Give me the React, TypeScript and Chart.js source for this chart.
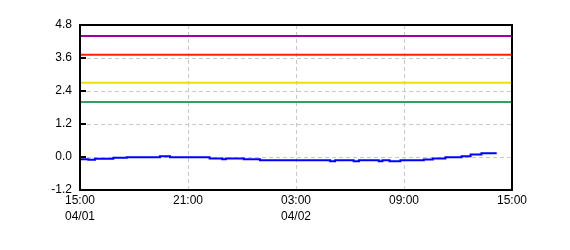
import React, { useEffect, useRef } from "react";
import { Chart, registerables } from "chart.js";

Chart.register(...registerables);

// Time in hours after 04/01 15:00
const levelHours = [0, 0.46, 0.83, 1.85, 2.6, 4.44, 5.0, 7.2, 7.9, 8.1, 9.1, 10.0, 13.9, 14.17, 15.2, 15.5, 16.6, 16.8, 17.2, 17.8, 19.1, 19.6, 20.3, 21.2, 21.7, 22.3, 23.15];
const levelValues = [-0.08, -0.1, -0.06, -0.03, -0.01, 0.03, -0.01, -0.05, -0.08, -0.05, -0.08, -0.12, -0.15, -0.12, -0.15, -0.12, -0.15, -0.12, -0.15, -0.12, -0.09, -0.05, -0.01, 0.03, 0.09, 0.14, 0.14];

const thresholdValues = [4.4, 3.72, 2.7, 2.0];
const thresholdColors = ["#a000a0", "#ff2000", "#f0e000", "#30a060"];

const xTickHours = [0, 6, 12, 18, 24];
const xTimeLabels = ["15:00", "21:00", "03:00", "09:00", "15:00"];
const xDateLabels = ["04/01", "", "04/02", "", ""];
const yTicks = [-1.2, 0.0, 1.2, 2.4, 3.6, 4.8];

const framePlugin = {
  id: "frame",
  afterDatasetsDraw(chart: any) {
    const { ctx, chartArea } = chart;
    const y = chart.scales.y;
    ctx.save();
    ctx.strokeStyle = "#000";
    ctx.lineWidth = 2;
    ctx.beginPath();
    yTicks.forEach((v) => {
      const py = Math.round(y.getPixelForValue(v));
      ctx.moveTo(chartArea.left, py);
      ctx.lineTo(chartArea.left + 6, py);
    });
    ctx.stroke();
    ctx.strokeRect(chartArea.left, chartArea.top, chartArea.right - chartArea.left, chartArea.bottom - chartArea.top);
    ctx.restore();
  },
};

export default function App() {
  const ref = useRef<HTMLCanvasElement>(null);
  useEffect(() => {
    document.body.style.margin = "0";
    const datasets: any[] = thresholdValues.map((v, i) => ({
      data: [
        { x: xTickHours[0], y: v },
        { x: xTickHours[xTickHours.length - 1], y: v },
      ],
      borderColor: thresholdColors[i],
      borderWidth: 2,
      pointRadius: 0,
    }));
    datasets.push({
      data: levelHours.map((h, i) => ({ x: h, y: levelValues[i] })),
      borderColor: "#0000ff",
      borderWidth: 2,
      pointRadius: 0,
      stepped: true,
    });
    const font = { family: "'Liberation Sans', Arial, sans-serif", size: 12, lineHeight: 1.3 };
    const chart = new Chart(ref.current!, {
      type: "line",
      data: { datasets },
      plugins: [framePlugin],
      options: {
        animation: false,
        responsive: false,
        layout: { padding: { top: 25, right: 58, left: 0, bottom: 0 } },
        plugins: { legend: { display: false }, tooltip: { enabled: false } },
        scales: {
          x: {
            type: "linear",
            min: 0,
            max: 24,
            afterFit: (s: any) => { s.height = 60; },
            afterBuildTicks: (s: any) => { s.ticks = xTickHours.map((v) => ({ value: v })); },
            ticks: {
              color: "#000",
              font,
              padding: 3,
              maxRotation: 0,
              autoSkip: false,
              callback: (v: any) => {
                const i = xTickHours.indexOf(Number(v));
                if (i < 0) return "";
                return xDateLabels[i] ? [xTimeLabels[i], xDateLabels[i]] : xTimeLabels[i];
              },
            },
            grid: { color: "#c8c8c8", lineWidth: 1, drawTicks: false },
            border: { display: false, dash: [4, 3] },
          },
          y: {
            min: -1.2,
            max: 4.8,
            afterFit: (s: any) => { s.width = 80; },
            afterBuildTicks: (s: any) => { s.ticks = yTicks.map((v) => ({ value: v })); },
            ticks: {
              color: "#000",
              font,
              padding: 8,
              callback: (v: any) => Number(v).toFixed(1),
            },
            grid: { color: "#c8c8c8", lineWidth: 1, drawTicks: false },
            border: { display: false, dash: [4, 3] },
          },
        },
      },
    });
    return () => chart.destroy();
  }, []);
  return <canvas ref={ref} width={570} height={250} style={{ display: "block" }} />;
}
